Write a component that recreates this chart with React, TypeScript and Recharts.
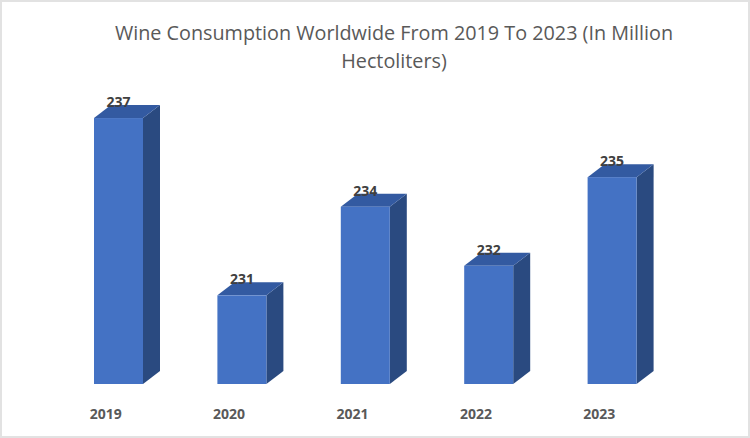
import { BarChart, Bar, XAxis, YAxis, LabelList } from "recharts";

const years = ["2019", "2020", "2021", "2022", "2023"];
const consumption = [237, 231, 234, 232, 235];
const yDomain = [228, 238];

const chartData = years.map((year, i) => ({ year, value: consumption[i] }));

const DEPTH_X = 17;
const DEPTH_Y = 13;

// recharts has no 3D bars, so the front face comes from the scale and we add top + side
function Bar3D({ x, y, width, height }: any) {
  const right = x + width;
  const bottom = y + height;
  const topFace = `${x},${y} ${x + DEPTH_X},${y - DEPTH_Y} ${right + DEPTH_X},${y - DEPTH_Y} ${right},${y}`;
  const sideFace = `${right},${y} ${right + DEPTH_X},${y - DEPTH_Y} ${right + DEPTH_X},${bottom - DEPTH_Y} ${right},${bottom}`;
  return (
    <g>
      <polygon points={sideFace} fill="#2a4a80" />
      <polygon points={topFace} fill="#335aa1" />
      <rect x={x} y={y} width={width} height={height} fill="#4472c4" />
    </g>
  );
}

export default function App() {
  return (
    <div
      style={{
        position: "absolute",
        left: 0,
        top: 0,
        width: 750,
        height: 438,
        boxSizing: "border-box",
        background: "#fff",
        borderStyle: "solid",
        borderColor: "#e2e2e2",
        borderWidth: 2,
        overflow: "hidden",
      }}
    >
      <div
        style={{
          position: "absolute",
          left: 92,
          top: 17,
          width: 600,
          textAlign: "center",
          fontFamily: "'Open Sans', sans-serif",
          fontSize: 19.8,
          lineHeight: "28px",
          color: "#595959",
        }}
      >
        Wine Consumption Worldwide From 2019 To 2023 (In Million Hectoliters)
      </div>
      <div style={{ position: "absolute", left: -2, top: -2 }}>
        <BarChart
          width={750}
          height={438}
          data={chartData}
          margin={{ top: 88.5, right: 76, bottom: 0, left: 57 }}
          barSize={49}
        >
          <XAxis
            dataKey="year"
            axisLine={false}
            tickLine={false}
            interval={0}
            height={54}
            dx={-13}
            dy={17}
            tick={{ fontSize: 14, fontWeight: 700, fill: "#595959", fontFamily: "'Open Sans', sans-serif" }}
          />
          <YAxis hide domain={yDomain} />
          <Bar dataKey="value" shape={<Bar3D />} isAnimationActive={false}>
            <LabelList
              dataKey="value"
              position="top"
              offset={11}
              style={{ fontSize: 14, fontWeight: 700, fill: "#404040", fontFamily: "'Open Sans', sans-serif" }}
            />
          </Bar>
        </BarChart>
      </div>
    </div>
  );
}
